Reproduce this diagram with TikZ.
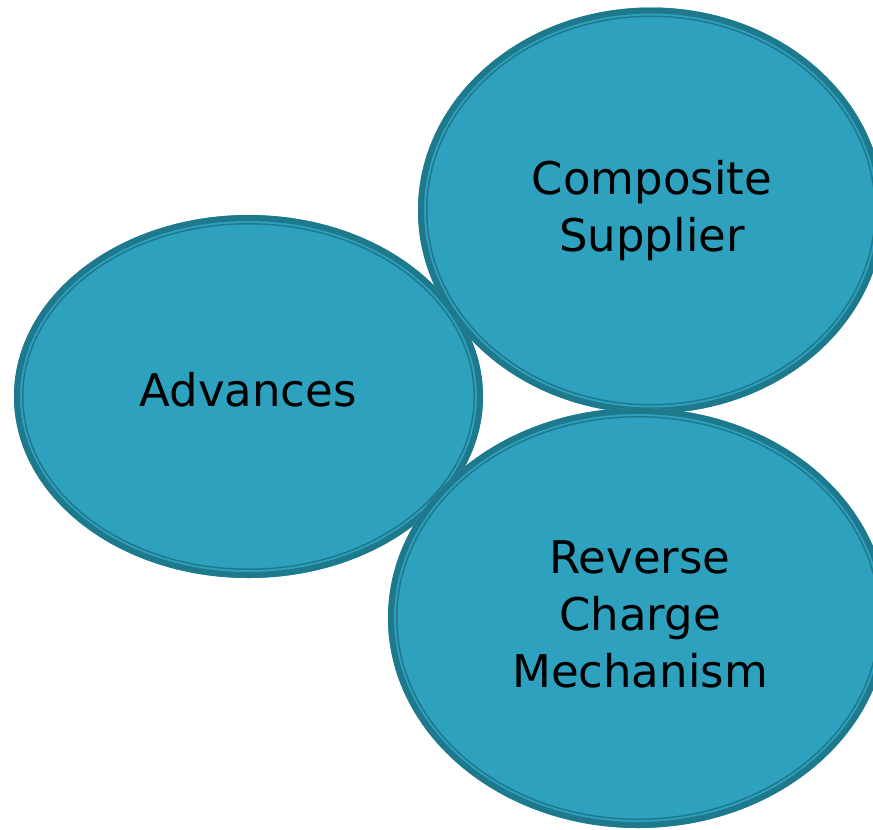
\documentclass[tikz,border=0pt]{standalone}
\usepackage{fontspec}
\setmainfont{DejaVu Sans}
\definecolor{bfill}{RGB}{46,161,190}
\definecolor{bline}{RGB}{31,121,140}
\newcommand\mybubble[4]{%
  \fill[bfill] (#1,#2) ellipse [x radius=#3, y radius=#4];
  \draw[bline, line width=6pt] (#1,#2) ellipse [x radius=#3-3, y radius=#4-3];
  \draw[bline, line width=1.5pt] (#1,#2) ellipse [x radius=#3-8.75, y radius=#4-8.75];
}
\begin{document}
\begin{tikzpicture}[x=1pt,y=-1pt,
  lbl/.style={align=center, font=\fontsize{45}{57}\selectfont, text=black, inner sep=0pt}]
\useasboundingbox (0,0) rectangle (873,830);
\clip (0,0) rectangle (873,830);
\mybubble{248.5}{396.5}{234.5}{181.5}
\mybubble{651}{210.5}{233}{203}
\mybubble{638}{618}{250}{210}
\node[lbl] (adv) at (248,390) {Advances};
\node[lbl] (comp) at (652,211) {Composite\\Supplier};
\node[lbl] (rcm) at (640,614.5) {Reverse\\Charge\\Mechanism};
\end{tikzpicture}
\end{document}
